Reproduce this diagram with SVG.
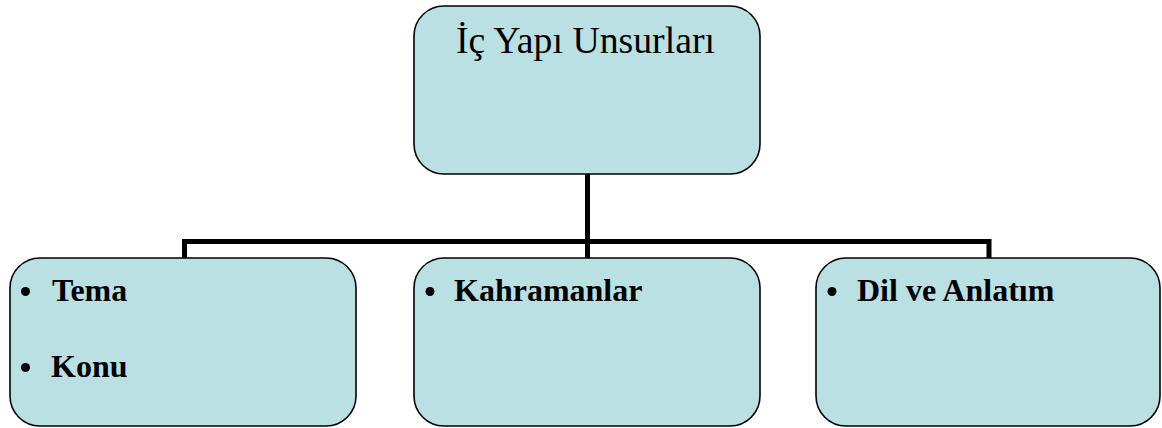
<svg xmlns="http://www.w3.org/2000/svg" width="1162" height="428" viewBox="0 0 1162 428">
<style>
.box{fill:#bbe0e3;stroke:#000;stroke-width:1.6}
.conn{fill:none;stroke:#000;stroke-width:5}
.title{font-family:"Liberation Serif","Times New Roman",serif;font-size:38px;fill:#000}
.item{font-family:"Liberation Serif","Times New Roman",serif;font-size:32px;font-weight:bold;fill:#000}
.bullet{fill:#000}
</style>
<rect width="1162" height="428" fill="#fff"/>
<g id="connectors">
<path class="conn" d="M587.5,174 V241.5 M184.5,258 V241.5 H989 V258 M587.5,241.5 V258"/>
</g>
<g id="root">
<rect class="box" x="414" y="6" width="346" height="168" rx="30" ry="30"/>
<text class="title" x="456" y="52.5" textLength="259" lengthAdjust="spacingAndGlyphs">İç Yapı Unsurları</text>
</g>
<g id="left">
<rect class="box" x="10" y="258" width="346" height="168" rx="30" ry="30"/>
<circle class="bullet" cx="25.5" cy="291.5" r="4.5"/>
<text class="item" x="52" y="300.5">Tema</text>
<circle class="bullet" cx="25.5" cy="367.5" r="4.5"/>
<text class="item" x="51" y="376.5">Konu</text>
</g>
<g id="middle">
<rect class="box" x="414" y="258" width="346" height="168" rx="30" ry="30"/>
<circle class="bullet" cx="430" cy="291.5" r="4.5"/>
<text class="item" x="454" y="300.5">Kahramanlar</text>
</g>
<g id="right">
<rect class="box" x="816" y="258" width="344" height="168" rx="30" ry="30"/>
<circle class="bullet" cx="832" cy="291.5" r="4.5"/>
<text class="item" x="857" y="300.5">Dil ve Anlatım</text>
</g>
</svg>
